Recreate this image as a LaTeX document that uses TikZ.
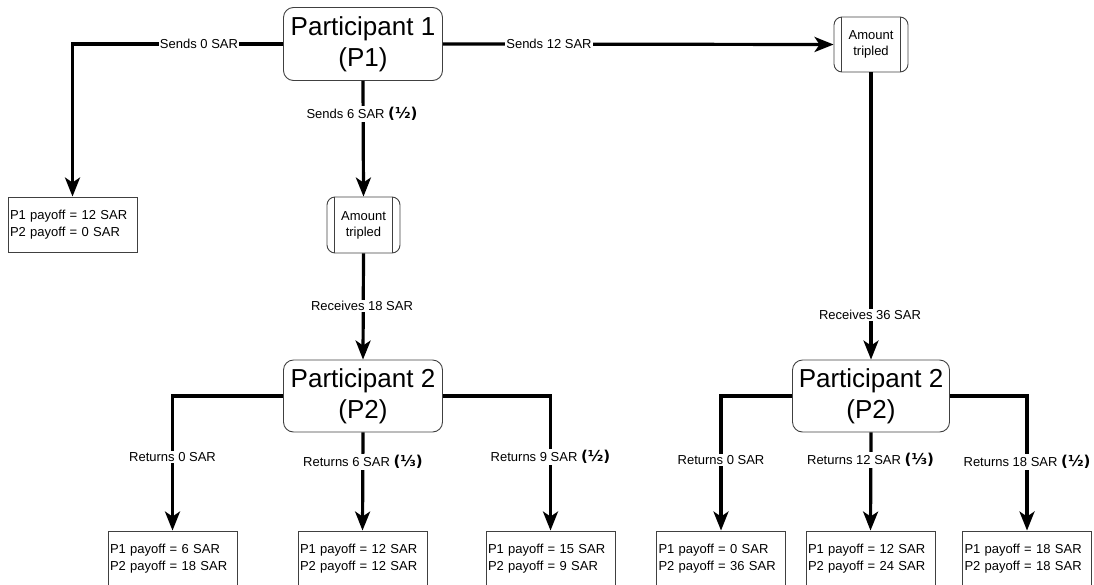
\documentclass[tikz,border=0pt]{standalone}
\usepackage{fontspec}
\setmainfont{Liberation Sans}
\newfontfamily\dvs{DejaVu Sans}
\usetikzlibrary{arrows.meta}
\newcommand{\frc}[1]{{\dvs\bfseries\fontsize{15}{16}\selectfont(#1)}}
\tikzset{
  partbox/.style={draw=black!75, line width=0.9pt, rounded corners=10pt, minimum width=159pt, minimum height=73pt, align=center, font=\fontsize{26}{31}\selectfont, inner sep=0pt},
  procbox/.style={draw=black!75, line width=0.9pt, rounded corners=8pt, minimum width=74pt, minimum height=55pt, align=center, font=\fontsize{13}{16}\selectfont, inner sep=0pt},
  paybox/.style={draw=black!75, line width=0.9pt, align=left, text width=125pt, inner xsep=2pt, inner ysep=0pt, minimum height=55pt, font=\fontsize{13}{17}\selectfont},
  conn/.style={line width=3.2pt, -{Stealth[length=19pt,width=15pt,inset=5pt]}},
  lbl/.style={fill=white, inner sep=1pt, font=\fontsize{13}{16}\selectfont},
}
\begin{document}
\begin{tikzpicture}[x=1pt,y=-1pt]
\useasboundingbox (0,0) rectangle (1094,584);
% nodes
\node[partbox] (p1) at (363,44) {Participant 1\\(P1)};
\node[procbox] (at1) at (871,44.5) {Amount\\tripled};
\node[procbox, minimum width=73pt, minimum height=56pt] (at2) at (363.5,225) {Amount\\tripled};
\node[paybox] (pay0) at (72.5,224.5) {P1 payoff = 12 SAR\\P2 payoff = 0 SAR};
\node[partbox, minimum height=72pt] (p2a) at (363,396) {Participant 2\\(P2)};
\node[partbox, minimum width=157pt, minimum height=72pt] (p2b) at (871,396) {Participant 2\\(P2)};
\node[paybox] (b1) at (172.5,558.5) {P1 payoff = 6 SAR\\P2 payoff = 18 SAR};
\node[paybox] (b2) at (362.5,558.5) {P1 payoff = 12 SAR\\P2 payoff = 12 SAR};
\node[paybox] (b3) at (550.5,558.5) {P1 payoff = 15 SAR\\P2 payoff = 9 SAR};
\node[paybox] (b4) at (721,558.5) {P1 payoff = 0 SAR\\P2 payoff = 36 SAR};
\node[paybox] (b5) at (870.5,558.5) {P1 payoff = 12 SAR\\P2 payoff = 24 SAR};
\node[paybox] (b6) at (1027,558.5) {P1 payoff = 18 SAR\\P2 payoff = 18 SAR};
% process inner lines
\foreach \n in {at1,at2}{
  \draw[black!75, line width=0.9pt] ([xshift=8pt]\n.north west) -- ([xshift=8pt]\n.south west);
  \draw[black!75, line width=0.9pt] ([xshift=-8pt]\n.north east) -- ([xshift=-8pt]\n.south east);
}
% connectors
\draw[conn] (p1.west) -| (pay0.north);
\draw[conn] (p1.east) -- (at1.west);
\draw[conn] (p1.south) -- (at2.north);
\draw[conn] (at2.south) -- (p2a.north);
\draw[conn] (at1.south) -- (p2b.north);
\draw[conn] (p2a.west) -| (b1.north);
\draw[conn] (p2a.south) -- (b2.north);
\draw[conn] (p2a.east) -| (b3.north);
\draw[conn] (p2b.west) -| (b4.north);
\draw[conn] (p2b.south) -- (b5.north);
\draw[conn] (p2b.east) -| (b6.north);
% labels
\node[lbl] (l1) at (199,44) {Sends 0 SAR};
\node[lbl] (l2) at (549,44) {Sends 12 SAR};
\node[lbl] (l3) at (362,114) {Sends 6 SAR \frc{½}};
\node[lbl] (l4) at (362,306) {Receives 18 SAR};
\node[lbl] (l5) at (870,315) {Receives 36 SAR};
\node[lbl] (l6) at (172.5,457) {Returns 0 SAR};
\node[lbl] (l7) at (363,462) {Returns 6 SAR \frc{⅓}};
\node[lbl] (l8) at (550.5,457) {Returns 9 SAR \frc{½}};
\node[lbl] (l9) at (721,460) {Returns 0 SAR};
\node[lbl] (l10) at (870.5,460) {Returns 12 SAR \frc{⅓}};
\node[lbl] (l11) at (1027,462) {Returns 18 SAR \frc{½}};
\end{tikzpicture}
\end{document}
